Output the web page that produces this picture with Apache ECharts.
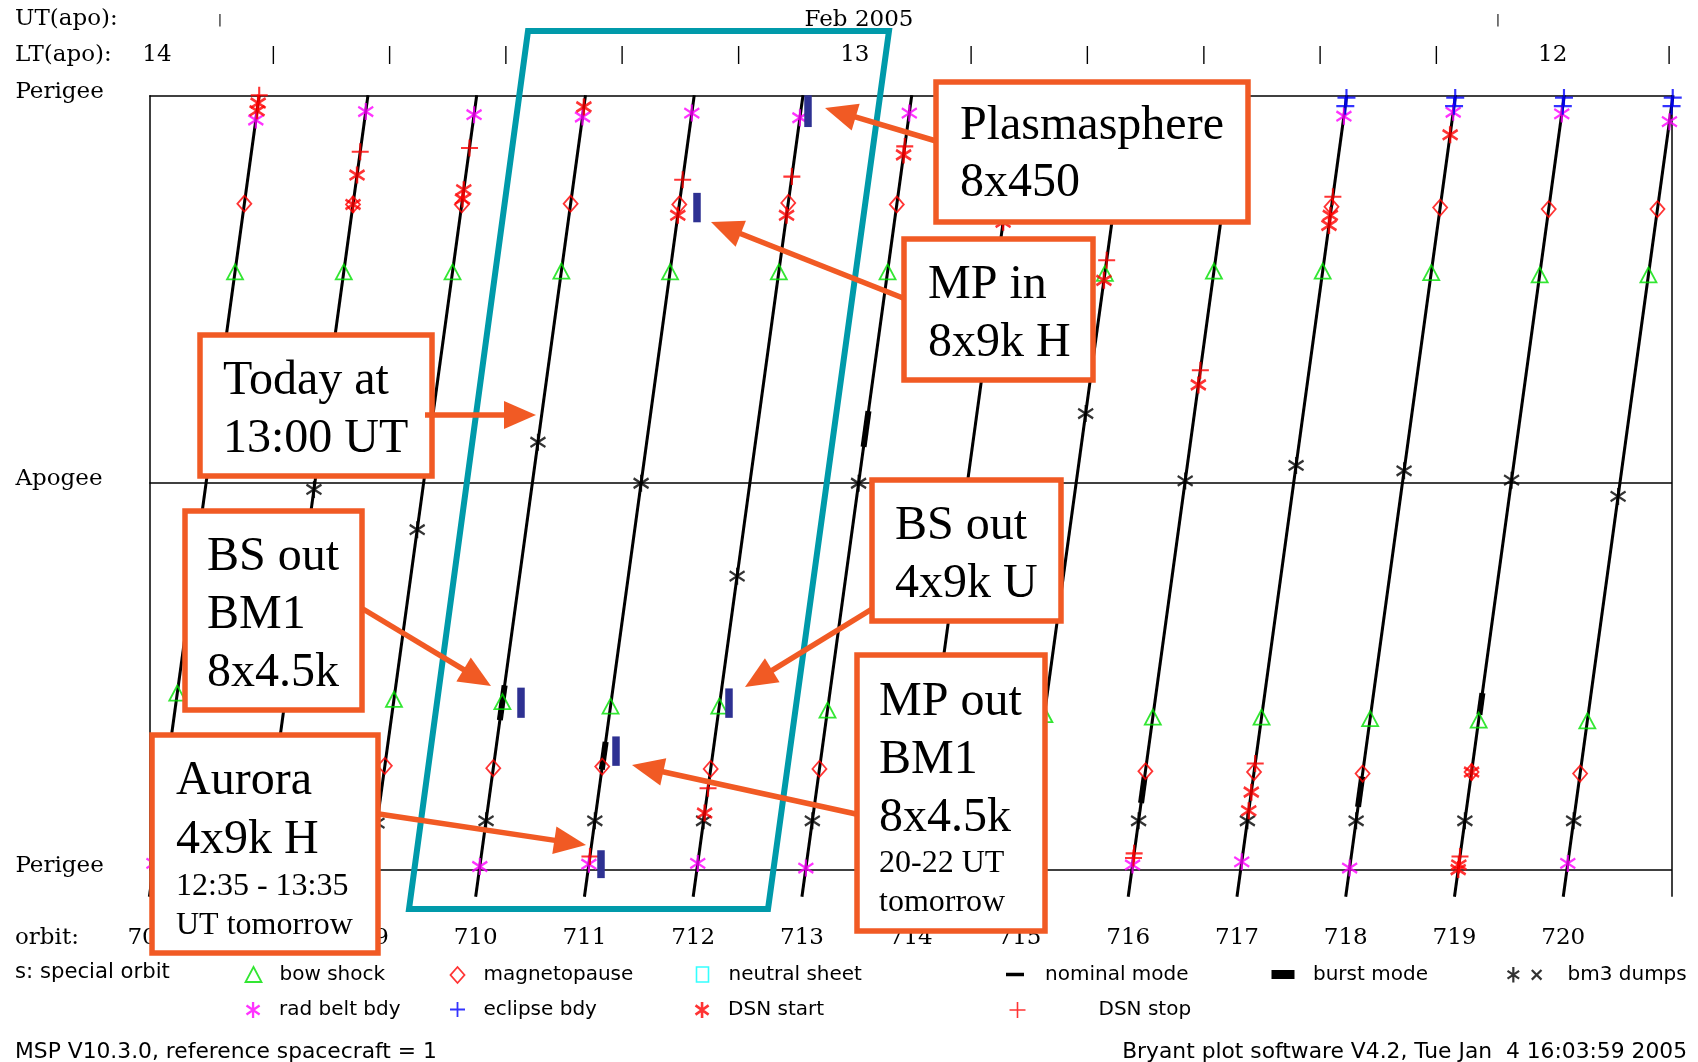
<!DOCTYPE html>
<html>
<head>
<meta charset="utf-8">
<title>MSP orbit plot</title>
<script src="https://cdn.jsdelivr.net/npm/echarts@6/dist/echarts.min.js"></script>
<style>
html,body{margin:0;padding:0;background:#fff;}
#chart{width:1698px;height:1062px;}
</style>
</head>
<body>
<div id="chart"></div>
<script>
// ---------------- data ----------------
const orbits = [707,708,709,710,711,712,713,714,715,716,717,718,719,720];
const levelLabels = ['Perigee','Apogee','Perigee'];
const utLabels = ['|','Feb 2005','|'];
const ltHours = [14,13,12];

// [orbit, orbit phase] ; phase 0 = perigee (start), 0.5 = apogee, 1 = perigee (end)
const bowShock = [[707,0.772],[707,0.228],[708,0.772],[709,0.772],[709,0.22],[710,0.773],[710,0.217],
  [711,0.772],[711,0.211],[712,0.772],[712,0.211],[713,0.772],[713,0.206],[715,0.770],[715,0.20],
  [716,0.773],[716,0.197],[717,0.773],[717,0.197],[718,0.771],[718,0.195],[719,0.768],[719,0.193],
  [720,0.768],[720,0.192]];
const magnetopause = [[707,0.86],[708,0.859],[709,0.859],[709,0.134],[710,0.86],[710,0.131],
  [711,0.859],[711,0.133],[712,0.861],[712,0.13],[713,0.859],[713,0.13],[716,0.127],
  [717,0.856],[717,0.126],[718,0.855],[718,0.124],[719,0.853],[719,0.126],[720,0.853],[720,0.124]];
const neutralSheet = [];
const radBelt = [[707,0.968],[707,0.008],[708,0.979],[709,0.975],[710,0.972],[710,0.004],
  [711,0.977],[711,0.007],[712,0.971],[712,0.008],[713,0.977],[713,0.002],[716,0.006],
  [717,0.973],[717,0.010],[718,0.978],[718,0.002],[719,0.976],[720,0.966],[720,0.008]];
const eclipse = [[717,0.997],[717,0.986],[718,0.997],[718,0.986],[719,0.997],[719,0.986],[720,0.997],[720,0.986]];
const dsnStart = [[707,0.99],[707,0.980],[708,0.897],[708,0.859],[709,0.878],[709,0.866],[710,0.985],
  [711,0.845],[712,0.845],[712,0.073],[713,0.923],[714,0.836],[715,0.761],[716,0.626],
  [717,0.845],[717,0.832],[717,0.100],[717,0.076],[718,0.949],[719,0.126],[719,0.006],[719,0.0]];
const dsnStop = [[707,1.0],[708,0.927],[709,0.932],[711,0.891],[711,0.017],[712,0.895],[712,0.105],
  [713,0.934],[715,0.787],[716,0.645],[716,0.021],[716,0.015],[717,0.869],[717,0.137],[719,0.017]];
const bm3Dumps = [[708,0.491],[709,0.439],[709,0.060],[710,0.552],[710,0.063],[711,0.499],[711,0.063],
  [712,0.379],[712,0.063],[713,0.499],[713,0.063],[715,0.589],[716,0.502],[716,0.063],
  [717,0.522],[717,0.063],[718,0.515],[718,0.063],[719,0.503],[719,0.063],[720,0.482],[720,0.063]];
// burst mode intervals [orbit, phase from, phase to]
const burstMode = [[710,0.193,0.238],[711,0.129,0.165],[713,0.546,0.592],[716,0.086,0.12],[718,0.081,0.12],[719,0.20,0.228]];
// annotation bars [orbit, phase from, phase to, shift]
const noteBars = [[712,1.0,0.959,0.067],[711,0.874,0.836,0.161],[710,0.235,0.196,0.172],
  [712,0.234,0.196,0.084],[711,0.172,0.134,0.108],[711,0.025,-0.011,0.111]];

// ---------------- geometry of the orbit track ----------------
const SLANT = 0.9756, OFF = 0.0341, P_START = -0.035, P_END = 1.0;
const xOf = (o, p) => o + OFF + SLANT * p;
const pt = (o, p) => [xOf(o, p), p];

const GREEN = '#00E000', RED = '#FF0000', MAGENTA = '#FF00FF', BLUE = '#0000FF', NAVY = '#2E3192';
const ORANGE = '#F15A24', CYAN = '#009AAA';
const SERIF = 'DejaVu Serif';
const SANS = 'DejaVu Sans';
const ASTER = 'path://M0,-10L0,10M-8.2,-5.7L8.2,5.7M-8.2,5.7L8.2,-5.7';
const PLUS = 'path://M-10,0L10,0M0,-10L0,10';
const BM3_ICON = 'path://M5,0L5,16M-1,4L11,12M-1,12L11,4M24,3L34,13M24,13L34,3';

function scatter(name, data, symbol, size, style, z) {
  return {
    name, type: 'scatter', xAxisIndex: 0, yAxisIndex: 0, clip: false, z: z || 4,
    symbol, symbolSize: size, silent: true,
    itemStyle: style,
    data: data.map(([o, p]) => pt(o, p))
  };
}

const series = [
  { name: 'nominal mode', type: 'lines', coordinateSystem: 'cartesian2d', clip: false, z: 1, silent: true,
    lineStyle: { color: '#000', width: 3, opacity: 1 },
    data: orbits.map(o => ({ coords: [pt(o, P_START), pt(o, P_END)] })) },
  { name: 'frame', type: 'lines', coordinateSystem: 'cartesian2d', clip: false, z: 1, silent: true,
    lineStyle: { color: '#000', width: 1.5, opacity: 1 },
    data: [orbits[0], orbits[orbits.length - 1] + 1].map(x => ({ coords: [[x, P_START], [x, P_END]] })) },
  { name: 'burst mode', type: 'lines', coordinateSystem: 'cartesian2d', clip: false, z: 3, silent: true,
    lineStyle: { color: '#000', width: 6, opacity: 1 },
    data: burstMode.map(([o, a, b]) => ({ coords: [pt(o, a), pt(o, b)] })) },
  scatter('bow shock', bowShock, 'triangle', [16, 15], { color: 'none', borderColor: GREEN, borderWidth: 1.8 }),
  scatter('magnetopause', magnetopause, 'diamond', [14, 16], { color: 'none', borderColor: RED, borderWidth: 1.8 }),
  scatter('neutral sheet', neutralSheet, 'rect', [12, 14], { color: 'none', borderColor: '#00FFFF', borderWidth: 1.6 }),
  scatter('rad belt bdy', radBelt, ASTER, [15, 17], { color: 'none', borderColor: MAGENTA, borderWidth: 2.3 }),
  scatter('eclipse bdy', eclipse, PLUS, [18, 17], { color: 'none', borderColor: BLUE, borderWidth: 2.1 }),
  scatter('DSN start', dsnStart, ASTER, [15, 17], { color: 'none', borderColor: RED, borderWidth: 2.6 }, 5),
  scatter('DSN stop', dsnStop, PLUS, [17, 17], { color: 'none', borderColor: RED, borderWidth: 2.1 }, 5),
  scatter('bm3 dumps', bm3Dumps, ASTER, [15, 17], { color: 'none', borderColor: '#000', borderWidth: 2.3 }),
  { name: 'notes', type: 'lines', coordinateSystem: 'cartesian2d', clip: false, z: 6, silent: true,
    lineStyle: { color: NAVY, width: 7.5, opacity: 1 },
    data: noteBars.map(([o, a, b, s]) => { const xm = xOf(o, (a + b) / 2) + s; return { coords: [[xm, a], [xm, b]] }; }) }
];

// ---------------- legend ----------------
const ROWS = [972.5, 1007.5];
const TH = 16;
const legendDefs = [
  { name: 'bow shock', icon: 'triangle', w: 16, h: 15, cx: 251, row: 0, tx: 277, st: { color: 'none', borderColor: GREEN, borderWidth: 1.8 } },
  { name: 'magnetopause', icon: 'diamond', w: 14, h: 16, cx: 455, row: 0, tx: 481, st: { color: 'none', borderColor: RED, borderWidth: 1.8 } },
  { name: 'neutral sheet', icon: 'rect', w: 12, h: 15, cx: 700, row: 0, tx: 726, st: { color: 'none', borderColor: '#00FFFF', borderWidth: 1.6 } },
  { name: 'nominal mode', icon: 'rect', w: 18, h: 3.5, cx: 1015, row: 0, tx: 1045, st: { color: '#000', borderWidth: 0 } },
  { name: 'burst mode', icon: 'rect', w: 23, h: 9, cx: 1283, row: 0, tx: 1313, st: { color: '#000', borderWidth: 0 } },
  { name: 'bm3 dumps', icon: BM3_ICON, w: 34, h: 16, cx: 1522, row: 0, tx: 1565, st: { color: 'none', borderColor: '#000', borderWidth: 2.2 } },
  { name: 'rad belt bdy', icon: ASTER, w: 14, h: 16, cx: 251, row: 1, tx: 277, st: { color: 'none', borderColor: MAGENTA, borderWidth: 2.3 } },
  { name: 'eclipse bdy', icon: PLUS, w: 15, h: 15, cx: 455, row: 1, tx: 481, st: { color: 'none', borderColor: BLUE, borderWidth: 1.8 } },
  { name: 'DSN start', icon: ASTER, w: 14, h: 16, cx: 700, row: 1, tx: 726, st: { color: 'none', borderColor: RED, borderWidth: 2.6 } },
  { name: 'DSN stop', icon: PLUS, w: 16, h: 16, cx: 1015, row: 1, tx: 1096, st: { color: 'none', borderColor: RED, borderWidth: 1.6 } }
];
const legends = legendDefs.map(d => {
  const left = d.cx - d.w / 2;
  return {
    left, top: ROWS[d.row] - Math.max(d.h, TH) / 2, padding: 0, itemWidth: d.w, itemHeight: d.h,
    selectedMode: false, orient: 'horizontal',
    data: [{ name: d.name, icon: d.icon, itemStyle: d.st }],
    textStyle: { fontFamily: SANS, fontSize: 20, color: '#000', padding: [0, 0, 0, d.tx - (left + d.w + 5)] }
  };
});

// ---------------- annotations ----------------
const graphics = [];
const txt = (text, x, y, size, family, align) => ({
  type: 'text', x, y, z: 120,
  style: { text, fontSize: size, fontFamily: family, fill: '#000', textAlign: align || 'left', textVerticalAlign: 'middle', align: align || 'left', verticalAlign: 'middle' }
});
graphics.push(txt('UT(apo):', 15, 19, 23, SERIF));
graphics.push(txt('LT(apo):', 15, 55, 23, SERIF));
graphics.push(txt('orbit:', 15, 938, 23, SERIF));
graphics.push(txt('s: special orbit', 15, ROWS[0], 21.2, SANS));
graphics.push(txt('MSP V10.3.0, reference spacecraft = 1', 15, 1052, 21.8, SANS));
graphics.push(txt('Bryant plot software V4.2, Tue Jan  4 16:03:59 2005', 1687, 1052, 21.8, SANS, 'right'));

graphics.push({ type: 'polygon', z: 100, shape: { points: [[528, 31], [889, 31], [768, 909], [409, 909]] },
  style: { fill: 'none', stroke: CYAN, lineWidth: 6 } });

const boxes = [
  { x: 936, y: 82, w: 312, h: 140, tx: 960, lines: [['Plasmasphere', 126.5, 48], ['8x450', 183.5, 48]] },
  { x: 904, y: 239, w: 189, h: 141, tx: 928, lines: [['MP in', 285.5, 48], ['8x9k H', 343.5, 48]] },
  { x: 200, y: 335, w: 232, h: 141, tx: 223, lines: [['Today at', 381.5, 48], ['13:00 UT', 439.5, 48]] },
  { x: 185, y: 511, w: 177, h: 199, tx: 207, lines: [['BS out', 557.5, 48], ['BM1', 615.5, 48], ['8x4.5k', 673.5, 48]] },
  { x: 152, y: 735, w: 226, h: 218, tx: 176, lines: [['Aurora', 781, 48], ['4x9k H', 840, 48], ['12:35 - 13:35', 886.5, 32], ['UT tomorrow', 925.5, 32]] },
  { x: 872, y: 480, w: 189, h: 141, tx: 895, lines: [['BS out', 526.5, 48], ['4x9k U', 584.5, 48]] },
  { x: 857, y: 655, w: 188, h: 276, tx: 879, lines: [['MP out', 702, 48], ['BM1', 760.5, 48], ['8x4.5k', 818.5, 48], ['20-22 UT', 863.5, 32], ['tomorrow', 902.5, 32]] }
];
boxes.forEach(b => {
  graphics.push({ type: 'rect', z: 110, shape: { x: b.x, y: b.y, width: b.w, height: b.h },
    style: { fill: '#fff', stroke: ORANGE, lineWidth: 5.5 } });
  b.lines.forEach(([t, y, fs]) => graphics.push(txt(t, b.tx, y, fs, 'Liberation Serif')));
});

const arrows = [[936,141,825,108],[903,298,711,222],[425,415,536,415],[363,609,491,686],
  [379,814,586,845],[872,609,745,687],[856,814,632,765]];
arrows.forEach(([x1, y1, x2, y2]) => {
  const dx = x2 - x1, dy = y2 - y1, L = Math.hypot(dx, dy), ux = dx / L, uy = dy / L;
  const HL = 32, HW = 14;
  const bx = x2 - ux * HL, by = y2 - uy * HL;
  graphics.push({ type: 'line', z: 112, shape: { x1, y1, x2: bx + ux * 4, y2: by + uy * 4 },
    style: { stroke: ORANGE, lineWidth: 5.5 } });
  graphics.push({ type: 'polygon', z: 112, shape: { points: [[x2, y2], [bx - uy * HW, by + ux * HW], [bx + uy * HW, by - ux * HW]] },
    style: { fill: ORANGE, stroke: 'none' } });
});

// ---------------- option ----------------
const hiddenAxis = { axisLine: { show: false }, axisTick: { show: false }, splitLine: { show: false } };
const option = {
  animation: false,
  backgroundColor: '#fff',
  grid: [
    { left: 149.4, right: 26, top: 95.3, bottom: 192.4 },
    { left: 157, right: 29, top: 43, height: 1 },
    { left: 220, right: 200, top: 8, height: 1 }
  ],
  xAxis: [
    Object.assign({ gridIndex: 0, type: 'value', min: orbits[0], max: orbits[orbits.length - 1] + 1, interval: 1,
      axisLabel: { margin: 57, fontFamily: SERIF, fontSize: 23, color: '#000', showMinLabel: true, showMaxLabel: true,
        formatter: v => (orbits.indexOf(v) >= 0 ? String(v) : '') } }, hiddenAxis),
    Object.assign({ gridIndex: 1, type: 'value', min: 710, max: 840, interval: 10, inverse: true,
      axisLabel: { margin: 0, fontFamily: SERIF, fontSize: 23, color: '#000', showMinLabel: true, showMaxLabel: true,
        formatter: v => (v % 60 === 0 && ltHours.indexOf(v / 60) >= 0 ? String(v / 60) : '{t||}'),
        rich: { t: { fontSize: 17, lineHeight: 23, fontFamily: SANS } } } }, hiddenAxis),
    Object.assign({ gridIndex: 2, type: 'value', min: 0, max: 2, interval: 1,
      axisLabel: { margin: 0, fontFamily: SERIF, fontSize: 23, color: '#000', showMinLabel: true, showMaxLabel: true,
        formatter: v => (utLabels[v] === '|' ? '{t||}' : utLabels[v]),
        rich: { t: { fontSize: 13, lineHeight: 23, fontFamily: SANS } } } }, hiddenAxis)
  ],
  yAxis: [
    { gridIndex: 0, type: 'value', min: 0, max: 1, interval: 0.5,
      axisLine: { show: false }, axisTick: { show: false },
      splitLine: { show: true, lineStyle: { color: '#000', width: 1.5 } },
      axisLabel: { align: 'left', verticalAlign: 'bottom', lineHeight: 6.5, margin: 134, fontFamily: SERIF, fontSize: 23, color: '#000',
        formatter: v => levelLabels[Math.round(v * 2)] } },
    { gridIndex: 1, type: 'value', show: false },
    { gridIndex: 2, type: 'value', show: false }
  ],
  legend: legends,
  series,
  graphic: graphics
};

const chart = echarts.init(document.getElementById('chart'), null, { renderer: 'canvas', width: 1698, height: 1062 });
chart.setOption(option);
</script>
</body>
</html>
